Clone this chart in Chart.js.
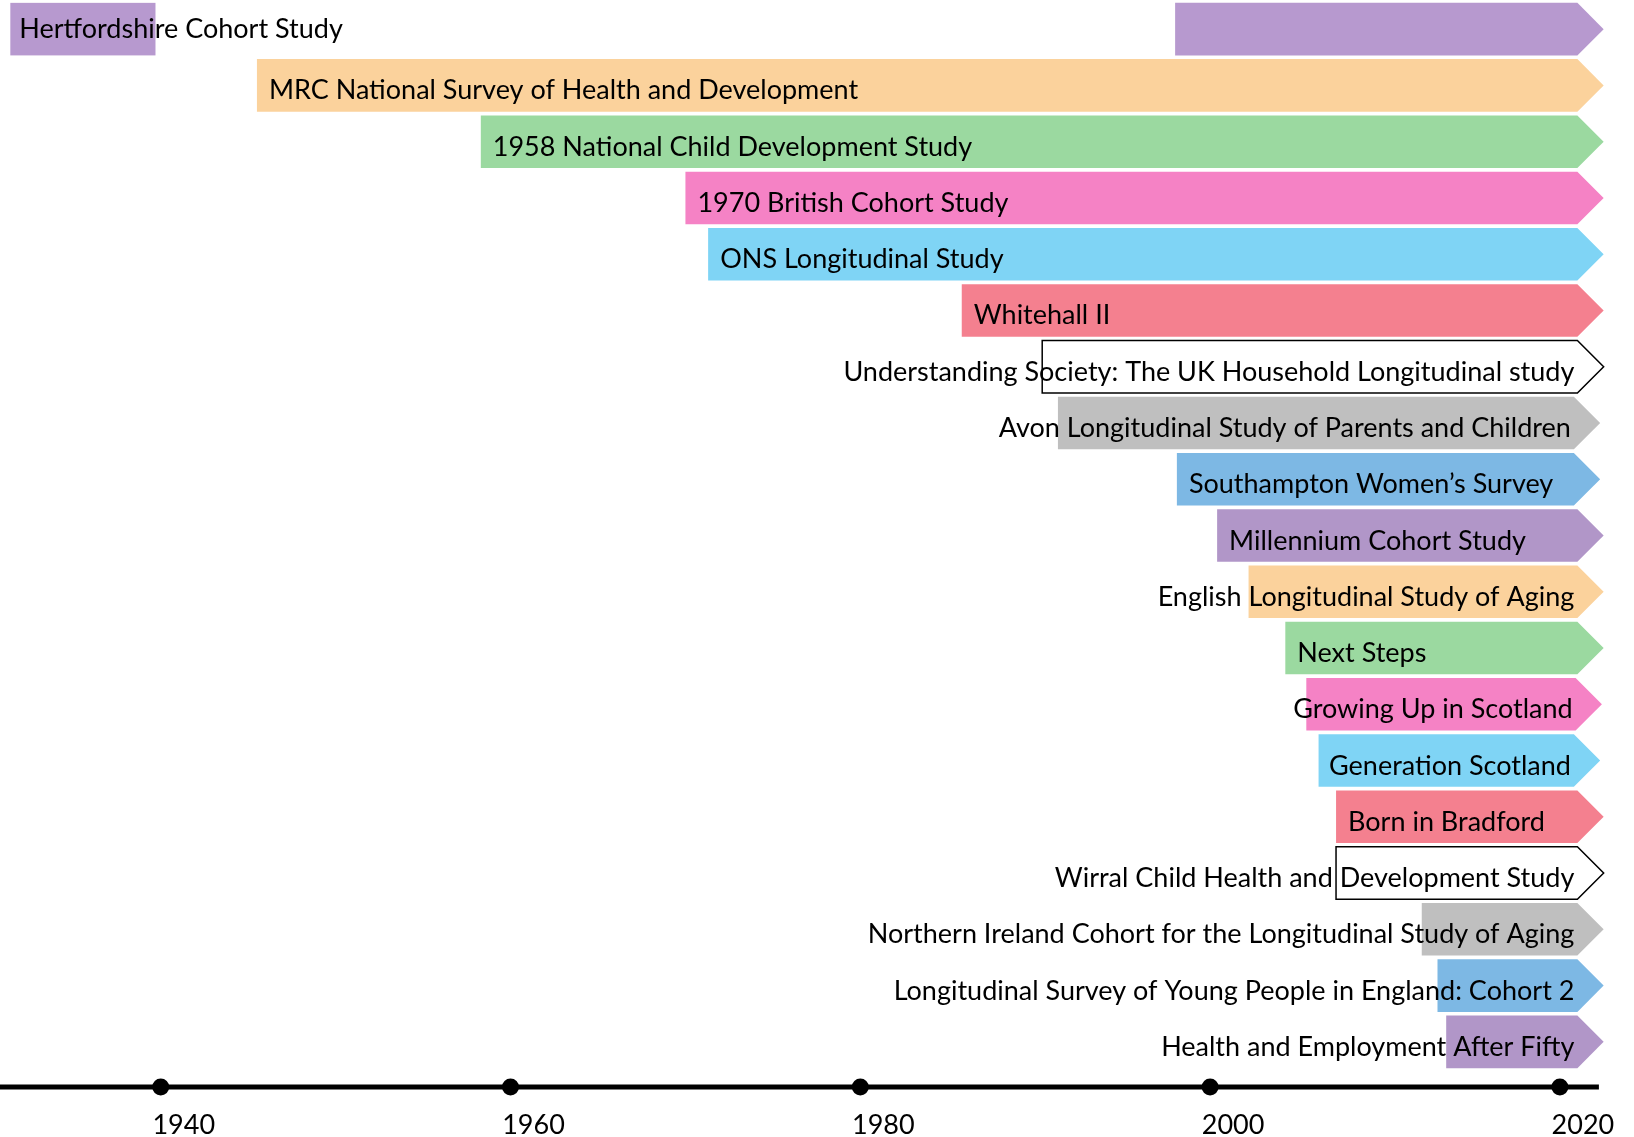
<!DOCTYPE html>
<html>
<head>
<meta charset="utf-8">
<title>UK longitudinal studies timeline</title>
<script src="https://cdn.jsdelivr.net/npm/chart.js@4"></script>
<style>
  html, body { margin: 0; padding: 0; background: #fff; }
  .wrap { width: 1634px; height: 1137px; position: relative; }
</style>
</head>
<body>
<div class="wrap"><canvas id="timeline"></canvas></div>
<script>
  // Studies, top to bottom
  const studies = [
    'Hertfordshire Cohort Study',
    'MRC National Survey of Health and Development',
    '1958 National Child Development Study',
    '1970 British Cohort Study',
    'ONS Longitudinal Study',
    'Whitehall II',
    'Understanding Society: The UK Household Longitudinal study',
    'Avon Longitudinal Study of Parents and Children',
    'Southampton Women\u2019s Survey',
    'Millennium Cohort Study',
    'English Longitudinal Study of Aging',
    'Next Steps',
    'Growing Up in Scotland',
    'Generation Scotland',
    'Born in Bradford',
    'Wirral Child Health and Development Study',
    'Northern Ireland Cohort for the Longitudinal Study of Aging',
    'Longitudinal Survey of Young People in England: Cohort 2',
    'Health and Employment After Fifty'
  ];

  // Year each arrow starts
  const startYears = [1998, 1945.5, 1958.3, 1970, 1971.3, 1985.8, 1990.4, 1991.3, 1998.1, 2000.4,
                      2002.2, 2004.3, 2005.5, 2006.2, 2007.2, 2007.2, 2012.1, 2013, 2013.5];
  // Year the arrow body ends (the tip goes a little further)
  const endYears = [2021, 2021, 2021, 2021, 2021, 2021, 2021, 2020.8, 2020.8, 2021,
                    2021, 2021, 2020.9, 2020.8, 2021, 2021, 2021, 2021, 2021];

  // Earlier phase (only Hertfordshire has one)
  const earlyStart = [1931.4, null, null, null, null, null, null, null, null, null,
                      null, null, null, null, null, null, null, null, null];
  const earlyEnd = [1939.7, null, null, null, null, null, null, null, null, null,
                    null, null, null, null, null, null, null, null, null];

  const tickYears = [1940, 1960, 1980, 2000, 2020];

  const barColors = ['#B799CF', '#FBD29C', '#9BD9A0', '#F582C5', '#7FD4F5', '#F4808F', '#FFFFFF',
                     '#BFBFBF', '#7DB8E4', '#B196C8', '#FBD29C', '#9BD9A0', '#F582C5', '#7FD4F5',
                     '#F4808F', '#FFFFFF', '#BFBFBF', '#7DB8E4', '#B196C8'];
  const outlined = [false, false, false, false, false, false, true, false, false, false,
                    false, false, false, false, false, true, false, false, false];

  const FONT = '27px Lato';

  // draws the arrows and their labels
  const arrowPlugin = {
    id: 'arrowPlugin',
    afterDatasetsDraw(chart) {
      const ctx = chart.ctx;
      const main = chart.getDatasetMeta(0).data;
      const early = chart.getDatasetMeta(1).data;
      ctx.save();

      early.forEach((bar, i) => {
        if (earlyStart[i] == null) return;
        ctx.fillStyle = barColors[i];
        ctx.fillRect(bar.base, bar.y - bar.height / 2, bar.x - bar.base, bar.height);
      });

      main.forEach((bar, i) => {
        const left = bar.base, right = bar.x;
        const top = bar.y - bar.height / 2, bottom = bar.y + bar.height / 2;
        ctx.beginPath();
        ctx.moveTo(left, top);
        ctx.lineTo(right, top);
        ctx.lineTo(right + bar.height / 2, bar.y);
        ctx.lineTo(right, bottom);
        ctx.lineTo(left, bottom);
        ctx.closePath();
        ctx.fillStyle = barColors[i];
        ctx.fill();
        if (outlined[i]) {
          ctx.strokeStyle = '#000';
          ctx.lineWidth = 1.5;
          ctx.stroke();
        }
      });

      // labels: inside from the start if they fit, else right-aligned at the end
      ctx.font = FONT;
      ctx.fillStyle = '#000';
      ctx.textBaseline = 'alphabetic';
      const pad = 12;
      main.forEach((bar, i) => {
        const w = ctx.measureText(studies[i]).width;
        const y = bar.y + 14;
        if (earlyStart[i] != null) {
          ctx.textAlign = 'left';
          ctx.fillText(studies[i], early[i].base + pad - 3, y - 5);
        } else if (w + 2 * pad <= bar.x - bar.base) {
          ctx.textAlign = 'left';
          ctx.fillText(studies[i], bar.base + pad, y);
        } else {
          ctx.textAlign = 'right';
          ctx.fillText(studies[i], bar.x - 3, y);
        }
      });
      ctx.restore();
    },
    afterDraw(chart) {
      // time axis line with a dot per tick
      const ctx = chart.ctx;
      const xs = chart.scales.x;
      const area = chart.chartArea;
      const axisY = area.bottom + 17;
      ctx.save();
      ctx.strokeStyle = '#000';
      ctx.lineWidth = 5;
      ctx.beginPath();
      ctx.moveTo(area.left, axisY);
      ctx.lineTo(area.right, axisY);
      ctx.stroke();
      ctx.fillStyle = '#000';
      tickYears.forEach(yr => {
        ctx.beginPath();
        ctx.arc(xs.getPixelForValue(yr), axisY, 8.5, 0, Math.PI * 2);
        ctx.fill();
      });
      ctx.restore();
    }
  };

  const config = {
    type: 'bar',
    data: {
      labels: studies,
      datasets: [
        {
          label: 'Study period',
          data: startYears.map((s, i) => [s, endYears[i]]),
          backgroundColor: 'rgba(0,0,0,0)',
          borderWidth: 0,
          grouped: false,
          barPercentage: 0.934,
          categoryPercentage: 1
        },
        {
          label: 'Earlier phase',
          data: earlyStart.map((s, i) => (s == null ? null : [s, earlyEnd[i]])),
          backgroundColor: 'rgba(0,0,0,0)',
          borderWidth: 0,
          grouped: false,
          barPercentage: 0.934,
          categoryPercentage: 1
        }
      ]
    },
    options: {
      indexAxis: 'y',
      responsive: true,
      maintainAspectRatio: false,
      animation: false,
      events: [],
      // tick padding counts twice in the axis height, so pull the bottom back down
      layout: { padding: { left: 0, right: 32, top: 1, bottom: -44 } },
      plugins: {
        legend: { display: false },
        tooltip: { enabled: false }
      },
      scales: {
        x: {
          type: 'linear',
          min: 1930.81,
          max: 2022.23,
          afterBuildTicks: scale => { scale.ticks = tickYears.map(v => ({ value: v })); },
          grid: { display: false, drawTicks: false },
          border: { display: false },
          ticks: {
            color: '#000',
            font: { family: 'Lato', size: 27, lineHeight: 1 },
            padding: 42,
            labelOffset: 23,
            maxRotation: 0,
            autoSkip: false,
            callback: v => String(v)
          }
        },
        y: {
          display: false,
          grid: { display: false }
        }
      }
    },
    plugins: [arrowPlugin]
  };

  const chart = new Chart(document.getElementById('timeline'), config);
</script>
</body>
</html>
